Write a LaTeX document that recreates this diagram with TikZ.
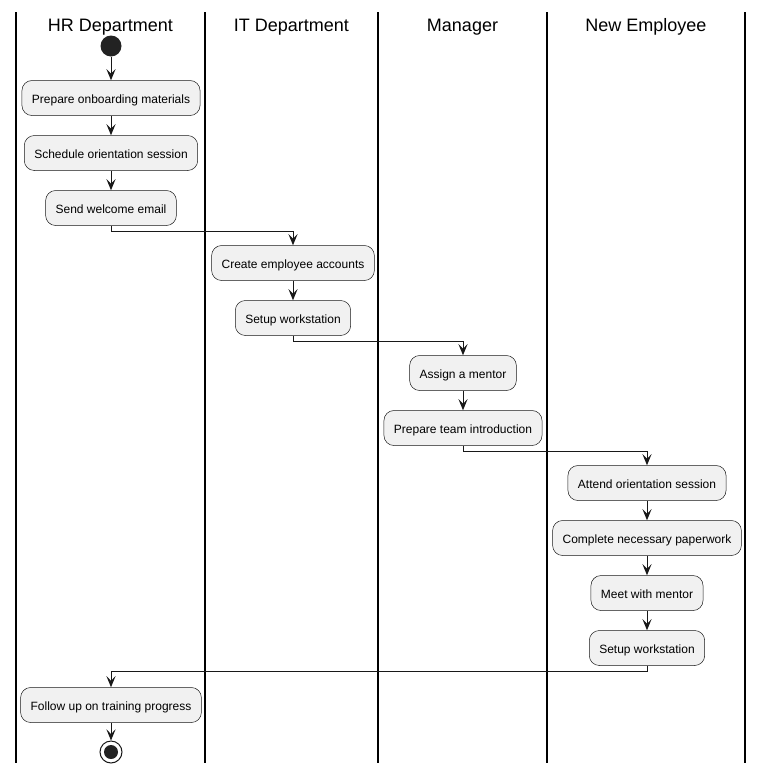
\documentclass[tikz,border=0pt]{standalone}
\usepackage{fontspec}
\setmainfont{Liberation Sans}
\usetikzlibrary{arrows.meta}

\definecolor{boxgray}{HTML}{F1F1F1}
\definecolor{linegray}{HTML}{181818}
\definecolor{dotgray}{HTML}{222222}

\tikzset{
  action/.style={draw=linegray, fill=boxgray, rounded corners=10pt, minimum height=35pt,
    inner xsep=10pt, text height=11.5pt, text depth=0pt, line width=0.5pt,
    font=\fontsize{12}{14}\selectfont},
  flow/.style={-{Stealth[length=11pt,width=9pt,inset=4.5pt]}, line width=1pt, draw=linegray},
  lane/.style={line width=1.5pt, draw=black},
  lanehead/.style={font=\fontsize{18}{21}\selectfont}
}

\begin{document}
\begin{tikzpicture}[x=1pt, y=-1pt]
\useasboundingbox (0,0) rectangle (763,774);

% Swimlanes
\foreach \xl in {16,205,378,547,745}
  \draw[lane] (\xl,12) -- (\xl,763);
\node[lanehead] (hrhead) at (110.5,27.3) {HR Department};
\node[lanehead] (ithead) at (291.5,27.3) {IT Department};
\node[lanehead] (mghead) at (462.5,27.3) {Manager};
\node[lanehead] (nehead) at (646,27.3) {New Employee};

% HR Department
\node[circle, fill=dotgray, minimum size=21pt, inner sep=0pt] (start) at (111,46) {};
\node[action] (prep) at (111,98) {Prepare onboarding materials};
\node[action] (sched) at (111,153) {Schedule orientation session};
\node[action] (send) at (111,208) {Send welcome email};

% IT Department
\node[action] (create) at (293,263) {Create employee accounts};
\node[action] (setupit) at (293,318) {Setup workstation};

% Manager
\node[action] (mentor) at (463,373) {Assign a mentor};
\node[action] (intro) at (463,428) {Prepare team introduction};

% New Employee
\node[action] (attend) at (647,483) {Attend orientation session};
\node[action] (paper) at (647,538) {Complete necessary paperwork};
\node[action] (meet) at (647,593) {Meet with mentor};
\node[action] (setupne) at (647,648) {Setup workstation};

% Back to HR
\node[action] (follow) at (111,705) {Follow up on training progress};
\node[circle, draw=linegray, line width=1pt, fill=white, minimum size=22pt, inner sep=0pt] (stop) at (111,752) {};
\fill[dotgray] (stop.center) circle (7pt);

% Flow inside lanes
\draw[flow] (start) -- (prep);
\draw[flow] (prep) -- (sched);
\draw[flow] (sched) -- (send);
\draw[flow] (create) -- (setupit);
\draw[flow] (mentor) -- (intro);
\draw[flow] (attend) -- (paper);
\draw[flow] (paper) -- (meet);
\draw[flow] (meet) -- (setupne);
\draw[flow] (follow) -- (stop);

% Flow between lanes
\draw[flow] (send.south) -- ++(0,6) -| (create.north);
\draw[flow] (setupit.south) -- ++(0,6) -| (mentor.north);
\draw[flow] (intro.south) -- ++(0,6) -| (attend.north);
\draw[flow] (setupne.south) -- ++(0,6) -| (follow.north);

\end{tikzpicture}
\end{document}
